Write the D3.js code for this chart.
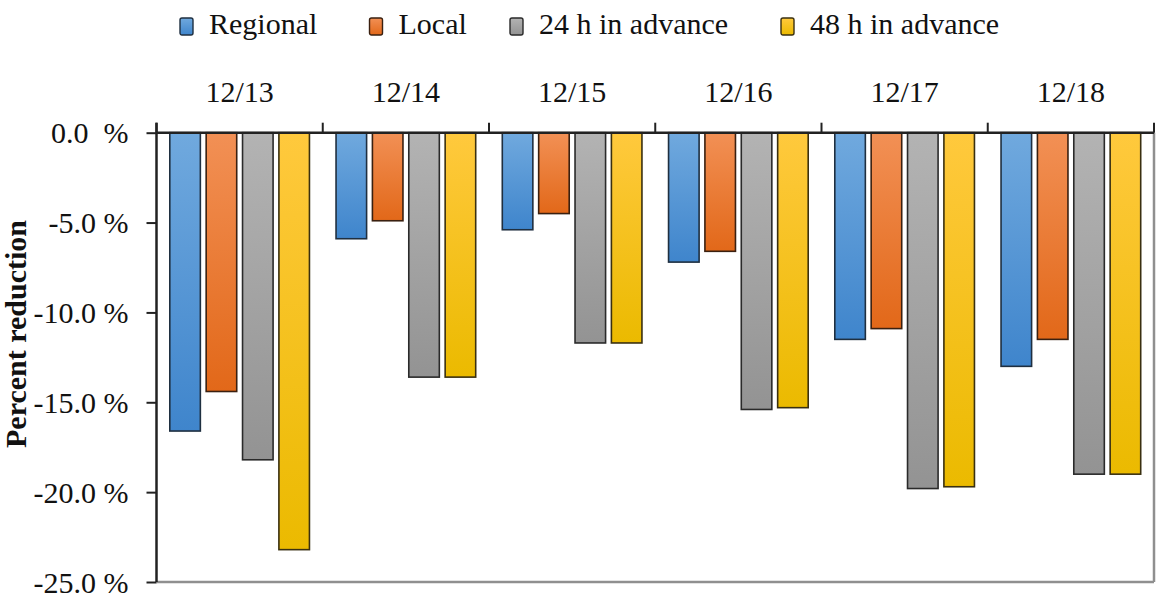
<!DOCTYPE html>
<html>
<head>
<meta charset="utf-8">
<script src="https://cdn.jsdelivr.net/npm/d3@7"></script>
<style>
  html, body { margin: 0; padding: 0; background: #fff; }
  svg { display: block; font-family: "Liberation Serif", "Times New Roman", serif; }
  text { white-space: pre; }
</style>
</head>
<body>
<svg id="chart" width="1159" height="594"></svg>
<script>
// ---- data ----
const categories = ["12/13", "12/14", "12/15", "12/16", "12/17", "12/18"];
const seriesNames = ["Regional", "Local", "24 h in advance", "48 h in advance"];
const regional = [-16.6, -5.9, -5.4, -7.2, -11.5, -13.0];
const local    = [-14.4, -4.9, -4.5, -6.6, -10.9, -11.5];
const adv24    = [-18.2, -13.6, -11.7, -15.4, -19.8, -19.0];
const adv48    = [-23.2, -13.6, -11.7, -15.3, -19.7, -19.0];
const yTicks = [0, -5, -10, -15, -20, -25];
const yTickLabels = ["0.0  %", "-5.0 %", "-10.0 %", "-15.0 %", "-20.0 %", "-25.0 %"];

const seriesValues = [regional, local, adv24, adv48];
const colors = [
  { top: "#70a9de", bot: "#3f85cc", stroke: "#1f2f40" },
  { top: "#f29055", bot: "#e26819", stroke: "#3a2010" },
  { top: "#b3b3b3", bot: "#939393", stroke: "#2a2a2a" },
  { top: "#ffc93d", bot: "#ebba00", stroke: "#3a3010" }
];

const svg = d3.select("#chart");
const margin = { left: 156.5, right: 1154, top: 132.7, bottom: 582 };

const x0 = d3.scaleBand().domain(categories)
  .range([margin.left, margin.right]).paddingInner(0.16).paddingOuter(0.08);
const x1 = d3.scaleBand().domain(seriesNames)
  .range([0, x0.bandwidth()]).paddingInner(0.16);
const y = d3.scaleLinear().domain([0, -25]).range([margin.top, margin.bottom]);

// gradients
const defs = svg.append("defs");
colors.forEach((c, i) => {
  const g = defs.append("linearGradient").attr("id", "g" + i)
    .attr("x1", 0).attr("y1", 0).attr("x2", 0).attr("y2", 1);
  g.append("stop").attr("offset", "0%").attr("stop-color", c.top);
  g.append("stop").attr("offset", "100%").attr("stop-color", c.bot);
});

// frame right/bottom (gray)
svg.append("line").attr("x1", margin.left).attr("x2", margin.right)
  .attr("y1", y(-25)).attr("y2", y(-25)).attr("stroke", "#8f8f8f").attr("stroke-width", 2.5);
svg.append("line").attr("x1", margin.right).attr("x2", margin.right)
  .attr("y1", y(0)).attr("y2", y(-25)).attr("stroke", "#8f8f8f").attr("stroke-width", 2.5);

// bars
const data = [];
categories.forEach((c, ci) => {
  seriesNames.forEach((s, si) => data.push({ c, s, si, v: seriesValues[si][ci] }));
});
svg.append("g").selectAll("rect").data(data).join("rect")
  .attr("x", d => x0(d.c) + x1(d.s))
  .attr("width", x1.bandwidth())
  .attr("y", y(0))
  .attr("height", d => y(d.v) - y(0))
  .attr("fill", d => `url(#g${d.si})`)
  .attr("stroke", d => colors[d.si].stroke)
  .attr("stroke-width", 1.6);

// left y axis
const yAxis = d3.axisLeft(y).tickValues(yTicks)
  .tickFormat((d, i) => yTickLabels[i]).tickSize(10).tickPadding(18);
const gy = svg.append("g").attr("transform", `translate(${margin.left},0)`).call(yAxis);
gy.select(".domain").attr("stroke", "#222").attr("stroke-width", 2.5)
  .attr("d", `M0,${y(0) - 10}V${y(-25)}`);
gy.selectAll(".tick line").attr("stroke", "#222").attr("stroke-width", 2);
gy.selectAll(".tick text").attr("font-size", 30).attr("fill", "#111")
  .attr("font-family", "Liberation Serif").attr("dy", "0.34em");

// top zero line with category boundary ticks
const boundaries = categories.map(c => x0(c) - x0.step() * x0.paddingOuter());
boundaries.push(margin.right);
svg.append("line").attr("x1", margin.left).attr("x2", margin.right)
  .attr("y1", y(0)).attr("y2", y(0)).attr("stroke", "#222").attr("stroke-width", 2.5);
svg.append("g").selectAll("line").data(boundaries).join("line")
  .attr("x1", d => d).attr("x2", d => d)
  .attr("y1", y(0) - 10).attr("y2", y(0))
  .attr("stroke", "#222").attr("stroke-width", 2);

// category labels on top
const xAxis = d3.axisTop(x0).tickSize(0).tickPadding(0);
const gx = svg.append("g").attr("transform", `translate(0,${102})`).call(xAxis);
gx.select(".domain").remove();
gx.selectAll(".tick text").attr("font-size", 30).attr("fill", "#111")
  .attr("font-family", "Liberation Serif").attr("dy", 0).attr("y", 0);

// y axis title
svg.append("text")
  .attr("transform", `translate(26,334) rotate(-90)`)
  .attr("text-anchor", "middle")
  .attr("font-size", 30).attr("font-weight", "bold").attr("fill", "#111")
  .text("Percent reduction");

// legend
const legendX = [180, 369.5, 510, 781];
const lg = svg.append("g").selectAll("g").data(seriesNames).join("g")
  .attr("transform", (d, i) => `translate(${legendX[i]},0)`);
lg.append("rect").attr("x", 0).attr("y", 18).attr("width", 13).attr("height", 17).attr("rx", 2)
  .attr("fill", (d, i) => `url(#g${i})`).attr("stroke", (d, i) => colors[i].stroke).attr("stroke-width", 1.4);
lg.append("text").attr("x", 29).attr("y", 34).attr("font-size", 30).attr("fill", "#111")
  .text(d => d);
</script>
</body>
</html>
